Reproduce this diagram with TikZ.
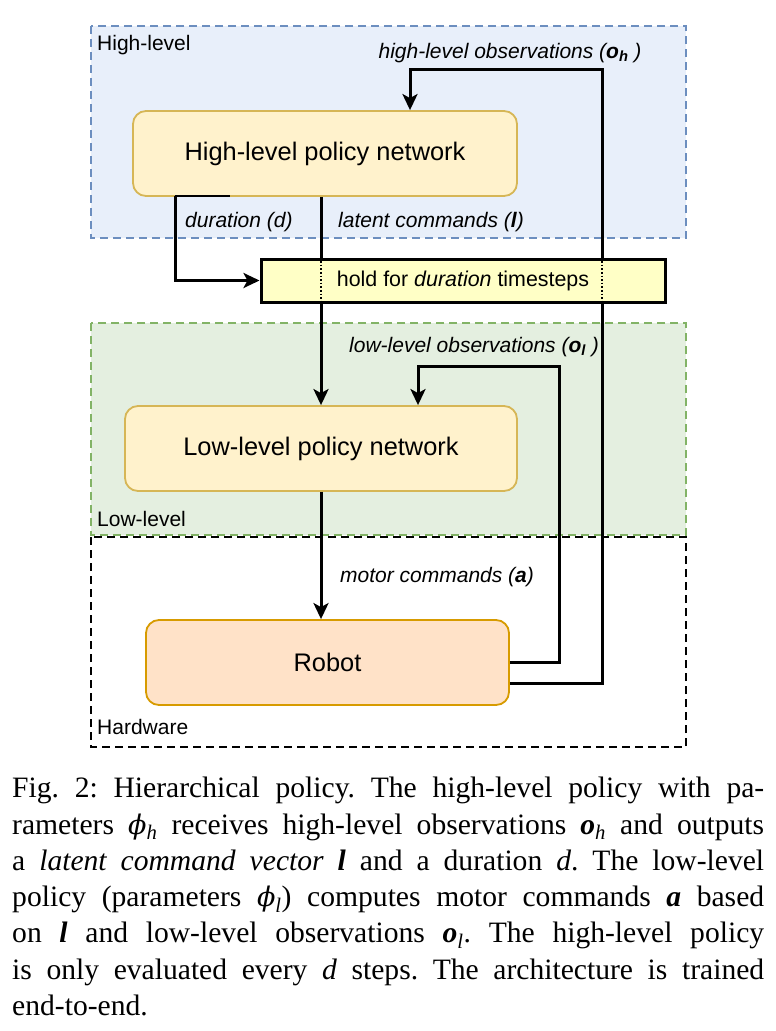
\documentclass[tikz,border=0pt]{standalone}
\usepackage{fontspec}
\setmainfont{Liberation Serif}
\setsansfont{Liberation Sans}
\newfontfamily\phifont{DejaVu Serif}
\newcommand{\varphisym}{{\phifont\itshape\fontsize{27}{30}\selectfont ϕ}}
\usetikzlibrary{arrows.meta}

\definecolor{hifill}{HTML}{E8EFFA}
\definecolor{hidraw}{HTML}{6C8EBF}
\definecolor{lofill}{HTML}{E4EFE0}
\definecolor{lodraw}{HTML}{82B366}
\definecolor{netfill}{HTML}{FFF2CC}
\definecolor{netdraw}{HTML}{D6B656}
\definecolor{robfill}{HTML}{FFE2C8}
\definecolor{robdraw}{HTML}{D79B00}
\definecolor{holdfill}{HTML}{FFFFC6}

\tikzset{
  region/.style={line width=1.8pt, dash pattern=on 8pt off 5pt},
  netbox/.style={draw=netdraw, fill=netfill, rounded corners=13pt, line width=1.8pt,
    font=\sffamily\fontsize{25.4}{30}\selectfont},
  area/.style={anchor=west, inner sep=0pt, font=\sffamily\fontsize{21}{25}\selectfont},
  lbl/.style={inner sep=0pt, font=\sffamily\itshape\fontsize{21}{25}\selectfont},
  flow/.style={line width=3pt, -{Stealth[length=16pt,width=15pt,inset=4pt]}},
  caption/.style={anchor=north west, inner sep=0pt, text width=752pt, align=justify,
    font=\rmfamily\fontsize{29.6}{36.3}\selectfont}
}

\begin{document}
\begin{tikzpicture}[x=1pt,y=-1pt]

\useasboundingbox (0,0) rectangle (776,1031);

\draw[region, draw=hidraw, fill=hifill] (91,26) rectangle (686,238);
\draw[region, draw=lodraw, fill=lofill] (91,323) rectangle (686,535);
\draw[region, draw=black] (91,537) rectangle (686,747);

\node[area] (hilabel) at (97,45) {High-level};
\node[area] (lolabel) at (97,519) {Low-level};
\node[area] (hwlabel) at (97,727) {Hardware};

\node[netbox, minimum width=384pt, minimum height=85pt] (hinet) at (325,153.5) {High-level policy network};
\node[netbox, minimum width=392pt, minimum height=85pt] (lonet) at (321,448.5) {Low-level policy network};
\node[netbox, draw=robdraw, fill=robfill, minimum width=363pt, minimum height=85pt] (robot) at (327.5,662.5) {Robot};

\coordinate (durtop) at (175,196);
\coordinate (lobend) at (559,366);
\coordinate (hibend) at (602,69);

\draw[flow] (hinet.south -| lonet.north) -- (lonet.north);
\draw[flow] (lonet.south) -- (robot.north -| lonet.south);
\draw[flow] (robot.east) -| (lobend) -| ([xshift=97pt]lonet.north);
\draw[flow] ([yshift=-21pt]robot.east) -| (hibend) -| ([xshift=85pt]hinet.north);

\node[draw, line width=3pt, fill=holdfill, minimum width=404pt, minimum height=43pt,
  font=\sffamily\fontsize{21.4}{25}\selectfont] (hold) at (463,280.5) {hold for \textit{duration} timesteps};
\draw[dotted, line width=1.6pt] (hold.north -| lonet.north) -- (hold.south -| lonet.north);
\draw[dotted, line width=1.6pt] (hold.north -| hibend) -- (hold.south -| hibend);

\draw[line width=1.5pt] (durtop) -- ++(55,0);
\draw[flow] (durtop) |- (hold.west);

\node[lbl] (hiobs) at (510,53) {high-level observations (\textbf{o}\textsubscript{\textbf{h}} )};
\node[lbl, anchor=west] (durlbl) at (185,222) {duration (d)};
\node[lbl, anchor=west] (latlbl) at (338,222) {latent commands (\textbf{l})};
\node[lbl] (loobs) at (474,347) {low-level observations (\textbf{o}\textsubscript{\textbf{l}} )};
\node[lbl, anchor=west] (motlbl) at (340,577) {motor commands (\textbf{a})};

\node[caption] (cap) at (12,777) {\frenchspacing\tolerance=10000\hyphenpenalty=10000
Fig.~2: Hierarchical policy. The high-level policy with pa-\linebreak
rameters \varphisym\textsubscript{\textit{h}} receives high-level observations \textbf{\textit{o}}\textsubscript{\textit{h}} and outputs\linebreak
a \textit{latent command vector} \textbf{\textit{l}} and a duration \textit{d}. The low-level\linebreak
policy (parameters \varphisym\textsubscript{\textit{l}}) computes motor commands \textbf{\textit{a}} based\linebreak
on \textbf{\textit{l}} and low-level observations \textbf{\textit{o}}\textsubscript{\textit{l}}. The high-level policy\linebreak
is only evaluated every \textit{d} steps. The architecture is trained\linebreak
end-to-end.};

\end{tikzpicture}
\end{document}
